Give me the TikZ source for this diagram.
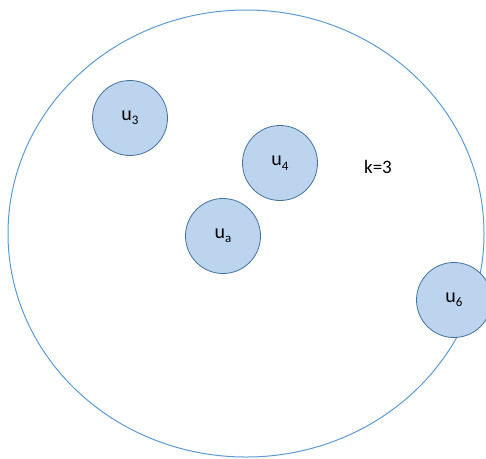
\documentclass[tikz,border=0pt]{standalone}
\usepackage{fontspec}
\setmainfont{Carlito}
\definecolor{bigline}{HTML}{5B9BD5}
\definecolor{nodefill}{HTML}{BDD4EE}
\definecolor{nodeline}{HTML}{41719C}
\newcommand{\lowsub}[1]{\raisebox{-4.5pt}{\fontsize{13}{15}\selectfont #1}}
\begin{document}
\begin{tikzpicture}[x=1pt,y=-1pt,
  vert/.style={circle,draw=nodeline,fill=nodefill,line width=0.8pt,minimum size=75pt,inner sep=0pt,font=\fontsize{20}{23}\selectfont},
  lbl/.style={font=\fontsize{19}{22}\selectfont}]
\useasboundingbox (0,0) rectangle (486,458);
\draw[bigline,line width=1pt] (246,233.5) ellipse [x radius=238, y radius=223.5];
\node[vert] (u3) at (130,118) {u\lowsub{3}};
\node[vert] (u4) at (280,163) {u\lowsub{4}};
\node[vert] (ua) at (223,236) {u\lowsub{a}};
\node[vert] (u6) at (454,300) {u\lowsub{6}};
\node[lbl] (k) at (378,167) {k=3};
\end{tikzpicture}
\end{document}
